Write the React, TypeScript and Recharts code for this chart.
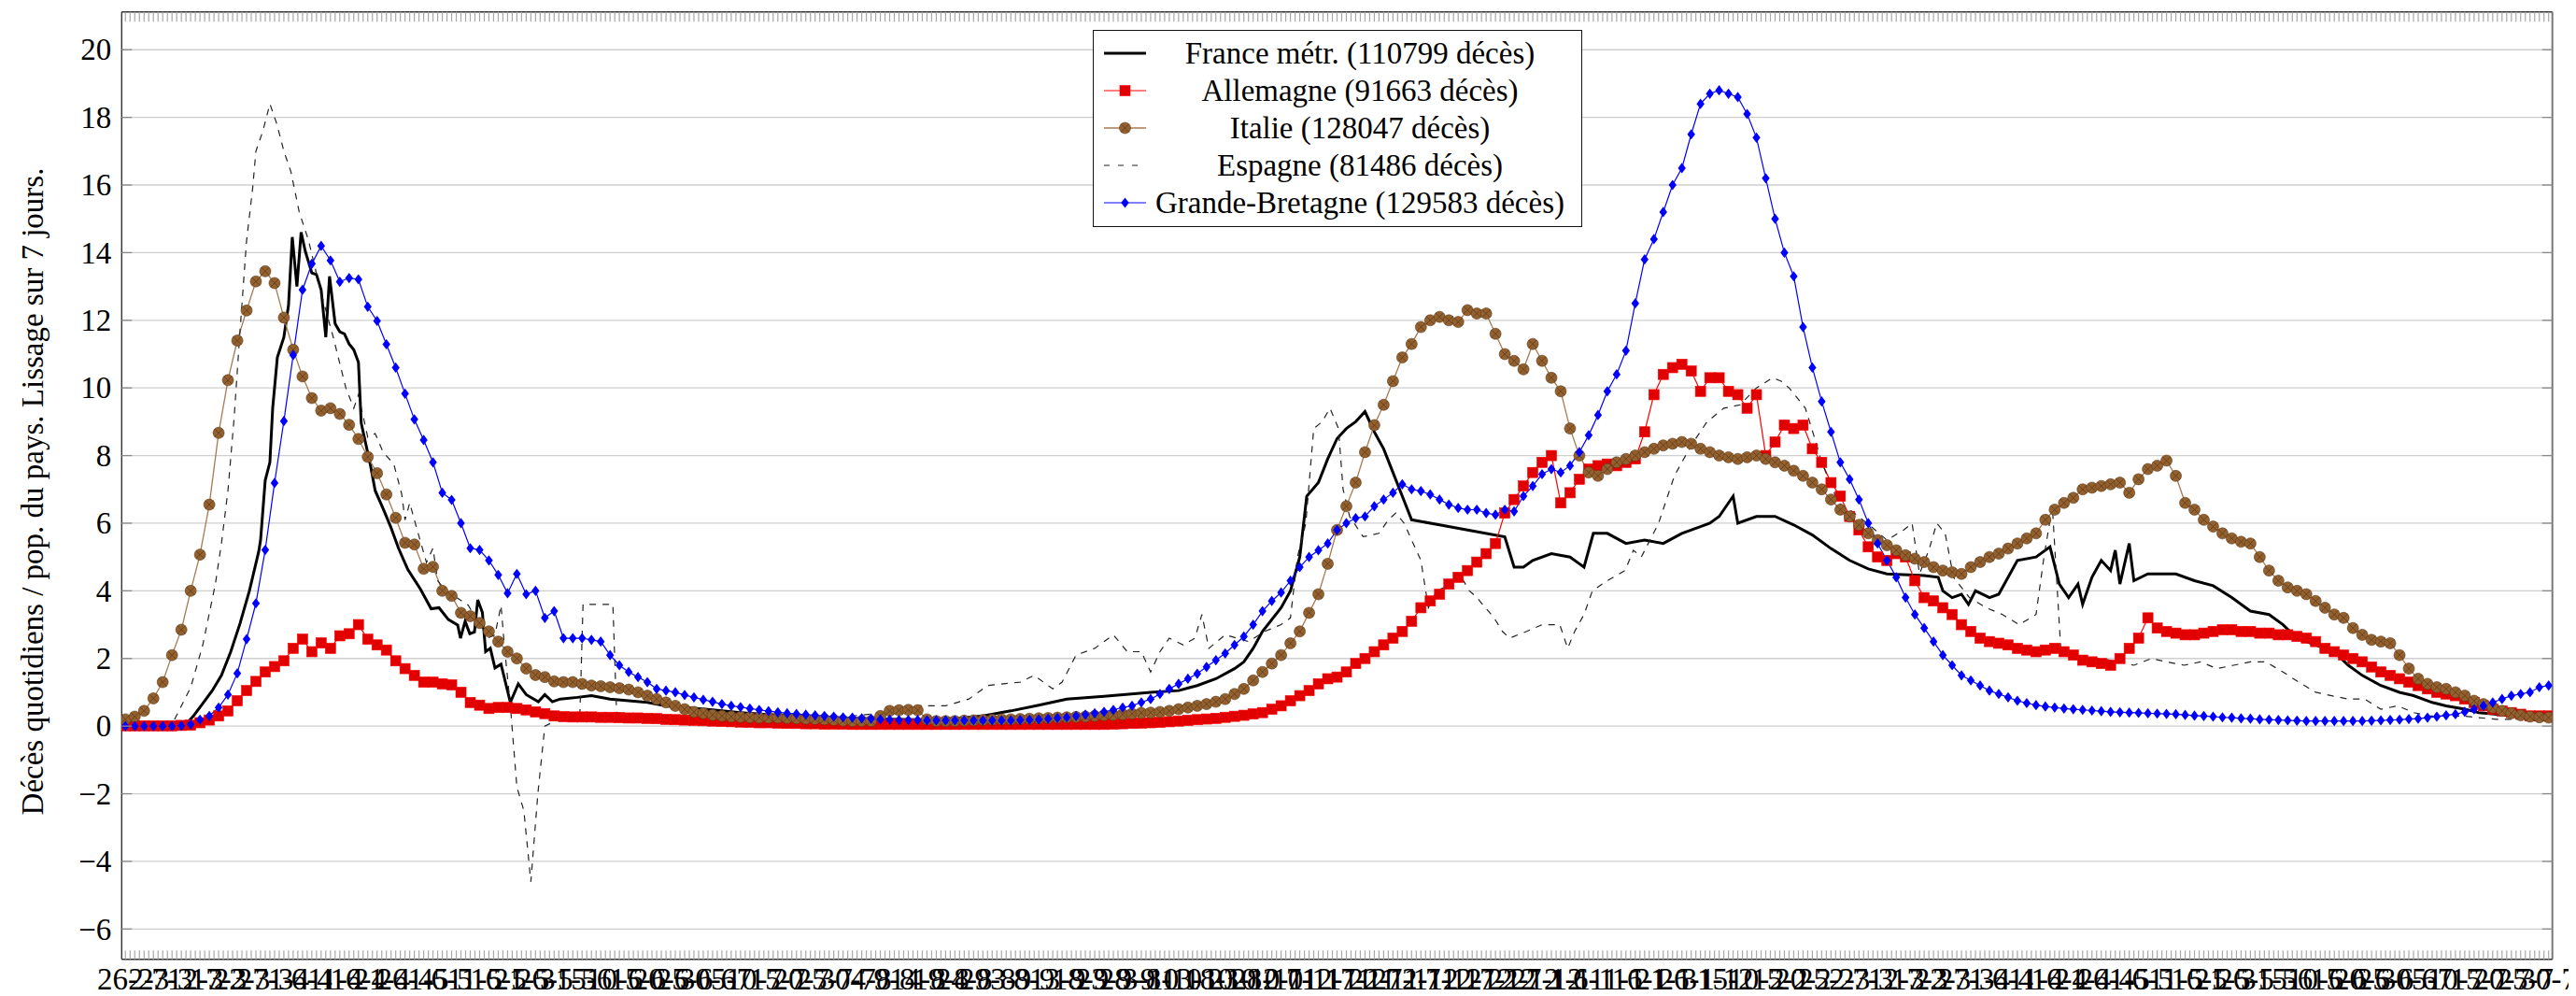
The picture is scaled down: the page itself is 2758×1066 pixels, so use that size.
import React from 'react';
import { LineChart, Line, XAxis, YAxis, CartesianGrid, ReferenceLine, Legend } from 'recharts';

const FONT = '"Liberation Serif", "DejaVu Serif", serif';
const FS = 33;
const W = 2750;
const H = 1058;
const PLOT_L = 122.3;
const PLOT_R = 2724.7;
const PLOT_T = 4.7;
const PLOT_B = 1018.7;
const X_MIN = -0.8;
const X_MAX = 520.8;
const Y_MIN = -6.895;
const Y_MAX = 21.12;

// x tick labels, one every 5 days starting 26-2-2020
const tickLabels = [
  '26-2', '2-3', '7-3', '12-3', '17-3', '22-3', '27-3', '1-4', '6-4', '11-4', '16-4', '21-4', '26-4',
  '1-5', '6-5', '11-5', '16-5', '21-5', '26-5', '31-5', '5-6', '10-6', '15-6', '20-6', '25-6', '30-6',
  '5-7', '10-7', '15-7', '20-7', '25-7', '30-7', '4-8', '9-8', '14-8', '19-8', '24-8', '29-8', '3-9',
  '8-9', '13-9', '18-9', '23-9', '28-9', '3-10', '8-10', '13-10', '18-10', '23-10', '28-10', '2-11',
  '7-11', '12-11', '17-11', '22-11', '27-11', '2-12', '7-12', '12-12', '17-12', '22-12', '27-12',
  '1-1', '6-1', '11-1', '16-1', '21-1', '26-1', '31-1', '5-2', '10-2', '15-2', '20-2', '25-2', '2-3',
  '7-3', '12-3', '17-3', '22-3', '27-3', '1-4', '6-4', '11-4', '16-4', '21-4', '26-4', '1-5', '6-5',
  '11-5', '16-5', '21-5', '26-5', '31-5', '5-6', '10-6', '15-6', '20-6', '25-6', '30-6', '5-7', '10-7',
  '15-7', '20-7', '25-7', '30-7',
];
const yTicks = [-6, -4, -2, 0, 2, 4, 6, 8, 10, 12, 14, 16, 18, 20];
const tickDays = Array.from({ length: 521 }, (_, i) => i);
const markerDays = Array.from({ length: 261 }, (_, i) => 2 * i);

// France (day, value) knots
const france = [
  [0, 0], [10, 0.02], [13.3, 0.1], [14.6, 0.3], [16.6, 0.67], [18.6, 1.04], [20.6, 1.5], [22.6, 2.2], [24.6, 3.04],
  [26.6, 4.0], [28.6, 5.16], [29, 5.5], [30, 7.27], [31, 7.8], [31.6, 9.4], [32.6, 10.9], [34, 11.5], [35, 12.45],
  [35.8, 14.46], [36.8, 13.0], [37.7, 14.6], [38.6, 14.04], [40, 13.4], [41, 13.35], [42, 12.9], [43, 11.5],
  [43.8, 13.3], [45, 11.9], [46, 11.66], [47, 11.6], [48, 11.3], [49, 11.13], [50, 10.76], [50.6, 8.96],
  [51.6, 8.33], [52.6, 7.7], [53.6, 6.96], [55.3, 6.43], [56.9, 5.9], [58.6, 5.26], [60.6, 4.63], [63.3, 4.05],
  [65.6, 3.47], [67.3, 3.5], [69.3, 3.15], [71.3, 2.99], [71.9, 2.6], [72.9, 3.1], [73.9, 2.73], [74.9, 2.78],
  [75.6, 3.73], [76.6, 3.36], [77.3, 2.2], [78.3, 2.3], [79.3, 1.72], [80.6, 1.83], [82.6, 0.7], [84.3, 1.25],
  [86, 0.93], [88.6, 0.72], [90, 0.93], [91.6, 0.72], [93.3, 0.8], [97, 0.85], [100, 0.9], [104, 0.8], [108, 0.75],
  [112, 0.7], [116, 0.6], [120, 0.55], [126, 0.48], [132, 0.4], [140, 0.32], [150, 0.26], [160, 0.21], [170, 0.19],
  [178, 0.22], [184, 0.3], [190, 0.45], [196, 0.62], [202, 0.8], [210, 0.88], [220, 1.0], [226, 1.05], [230, 1.2],
  [234, 1.4], [238, 1.7], [240, 1.9], [242, 2.3], [244, 2.8], [248, 3.5], [250, 4.0], [252, 5.0], [253.5, 6.8],
  [256, 7.2], [258, 7.9], [260, 8.5], [262, 8.8], [264, 9.0], [266, 9.3], [268, 8.7], [270, 8.2], [272, 7.5],
  [274, 6.8], [276, 6.1], [282, 5.95], [288, 5.8], [296, 5.6], [298, 4.7], [300, 4.7], [302, 4.9], [306, 5.1],
  [310, 5.0], [312, 4.8], [313, 4.7], [315, 5.7], [318, 5.7], [322, 5.4], [326, 5.5], [330, 5.4], [334, 5.7],
  [338, 5.9], [340, 6.0], [342, 6.2], [344, 6.6], [345, 6.8], [346, 6.0], [350, 6.2], [354, 6.2], [358, 5.95],
  [362, 5.65], [366, 5.25], [370, 4.9], [374, 4.65], [378, 4.5], [386, 4.45], [389, 4.4], [390, 4.0], [392, 3.8],
  [394, 3.9], [395.5, 3.6], [397, 4.0], [400, 3.8], [402, 3.9], [406, 4.9], [410, 5.0], [413, 5.3], [415, 4.2],
  [417, 3.8], [419, 4.2], [420, 3.6], [422, 4.4], [424, 4.9], [426, 4.6], [427, 5.2], [428, 4.2], [430, 5.4],
  [431, 4.3], [434, 4.5], [440, 4.5], [444, 4.3], [448, 4.15], [452, 3.8], [456, 3.4], [460, 3.3], [463, 3.0],
  [466, 2.6], [470, 2.4], [474, 2.2], [477, 1.8], [480, 1.5], [484, 1.2], [488, 1.0], [491, 0.9], [495, 0.7],
  [498, 0.6], [502, 0.5], [505, 0.4], [509, 0.35], [513, 0.3], [520, 0.3],
];

// Espagne (day, value) knots
const spain = [
  [0, 0], [8, 0], [10, 0.05], [14, 1.14], [16.6, 2.4], [19.3, 4.2], [20.6, 5.4], [22, 6.96], [23.3, 9.07],
  [24.6, 11.7], [26, 14.36], [27.3, 15.9], [28, 17.0], [29.5, 17.6], [31, 18.4], [32.5, 17.8], [34, 17.0],
  [35.5, 16.4], [37.3, 15.2], [39.3, 14.36], [42, 12.8], [44.6, 11.5], [47.3, 10.0], [49, 9.4], [50, 9.8],
  [52, 8.54], [53.6, 8.65], [55.3, 8.1], [57.6, 7.75], [59.3, 6.85], [60, 6.1], [61, 6.6], [62.6, 5.8],
  [64.6, 4.84], [66, 5.26], [67, 4.3], [69.3, 3.9], [71.3, 3.78], [73.6, 3.57], [75.3, 3.15], [78, 2.62],
  [79.3, 2.7], [80.6, 3.57], [81.3, 2.4], [82.6, 0.6], [84, -1.8], [85.5, -2.5], [87, -4.6], [88.5, -2.0],
  [90, 0.0], [93, 0.2], [97.5, 0.25], [98.2, 3.6], [104.6, 3.6], [105.4, 0.4], [110, 0.3], [120, 0.25],
  [140, 0.2], [150, 0.2], [156, 0.3], [163, 0.4], [170, 0.6], [176, 0.6], [181, 0.8], [185, 1.2], [192, 1.3],
  [195, 1.5], [199, 1.1], [201, 1.3], [204, 2.1], [208, 2.3], [212, 2.7], [215, 2.2], [218, 2.2], [220, 1.6],
  [222, 2.2], [224, 2.6], [227, 2.4], [229.5, 2.6], [231, 3.3], [232.5, 2.3], [236, 2.7], [241, 2.5],
  [244.5, 2.8], [248, 3.0], [250, 3.2], [251.5, 5.0], [253.3, 6.0], [255, 8.8], [256.8, 9.0], [258.5, 9.4],
  [260.3, 8.8], [261.3, 7.0], [262.7, 6.2], [265.6, 5.6], [269, 5.7], [271, 6.1], [272.6, 6.3], [274.4, 6.0],
  [276, 5.5], [278, 4.9], [279.6, 3.5], [281.4, 4.0], [283, 4.1], [286.7, 4.4], [288.4, 4.0], [290, 3.8],
  [293.7, 3.2], [295.5, 2.8], [297, 2.6], [300.7, 2.8], [304, 3.0], [307.8, 3.0], [309.5, 2.3], [311, 2.8],
  [313, 3.3], [314.8, 4.0], [318, 4.3], [321.8, 4.6], [323.6, 5.2], [325.3, 5.0], [329, 6.0], [332.4, 7.4],
  [336, 8.3], [339.4, 9.0], [343, 9.4], [346.5, 9.5], [350, 10.0], [353.5, 10.3], [355.3, 10.2], [357, 10.0],
  [358.8, 9.7], [360.5, 9.4], [362.3, 8.6], [364, 7.8], [365.8, 7.2], [367.6, 6.6], [371, 6.3], [374.6, 5.9],
  [378, 5.5], [381.6, 5.8], [383.4, 6.0], [385, 4.5], [387, 5.2], [388.7, 6.0], [390.5, 5.7], [392.3, 4.4],
  [395.7, 3.8], [399.3, 3.5], [402.8, 3.3], [406.4, 3.0], [410, 3.3], [411.7, 5.0], [413.5, 6.5], [415.3, 2.3],
  [417, 2.2], [420.6, 2.0], [424, 2.0], [427.7, 1.9], [431, 1.8], [434.8, 2.0], [438, 1.9], [441.8, 1.8],
  [445.3, 1.9], [448.8, 1.7], [452.4, 1.8], [456, 1.9], [459.3, 1.9], [463, 1.6], [466.4, 1.3], [470, 1.0],
  [473.4, 0.9], [477, 0.8], [480.5, 0.8], [484, 0.5], [487.6, 0.6], [491, 0.4], [494.6, 0.3], [498, 0.3],
  [501.7, 0.3], [505, 0.25], [508.8, 0.2], [512.3, 0.2], [518, 0.25],
];

// Allemagne, every 2 days from day 0
const germany = [
  0.01, 0.01, 0.01, 0.01, 0.01, 0.01, 0.02, 0.03, 0.1, 0.18,
  0.3, 0.45, 0.75, 1.05, 1.32, 1.6, 1.76, 1.93, 2.3, 2.57,
  2.2, 2.46, 2.3, 2.67, 2.73, 3.0, 2.57, 2.4, 2.25, 1.93,
  1.7, 1.5, 1.3, 1.3, 1.25, 1.22, 1.0, 0.7, 0.62, 0.52,
  0.55, 0.55, 0.52, 0.48, 0.42, 0.37, 0.3, 0.28, 0.27, 0.27,
  0.27, 0.26, 0.26, 0.25, 0.24, 0.24, 0.23, 0.22, 0.2, 0.19,
  0.18, 0.17, 0.16, 0.15, 0.14, 0.13, 0.12, 0.11, 0.1, 0.1,
  0.09, 0.08, 0.08, 0.07, 0.07, 0.06, 0.06, 0.06, 0.05, 0.05,
  0.05, 0.05, 0.05, 0.05, 0.05, 0.05, 0.05, 0.05, 0.05, 0.05,
  0.05, 0.05, 0.05, 0.05, 0.05, 0.05, 0.05, 0.05, 0.05, 0.05,
  0.05, 0.05, 0.05, 0.05, 0.05, 0.05, 0.06, 0.07, 0.08, 0.09,
  0.1, 0.11, 0.13, 0.15, 0.17, 0.19, 0.21, 0.23, 0.26, 0.29,
  0.32, 0.36, 0.4, 0.5, 0.6, 0.75, 0.9, 1.05, 1.25, 1.4,
  1.45, 1.6, 1.85, 2.0, 2.2, 2.4, 2.6, 2.8, 3.1, 3.5,
  3.7, 3.9, 4.2, 4.4, 4.6, 4.85, 5.1, 5.4, 6.3, 6.7,
  7.1, 7.5, 7.8, 8.0, 6.6, 6.9, 7.3, 7.6, 7.7, 7.75,
  7.7, 7.8, 7.9, 8.7, 9.8, 10.4, 10.6, 10.7, 10.5, 9.9,
  10.3, 10.3, 9.9, 9.8, 9.4, 9.8, 8.0, 8.4, 8.9, 8.8,
  8.9, 8.2, 7.8, 7.2, 6.8, 6.2, 5.8, 5.3, 5.0, 4.9,
  5.1, 5.0, 4.3, 3.8, 3.7, 3.5, 3.3, 3.0, 2.8, 2.6,
  2.5, 2.45, 2.4, 2.3, 2.25, 2.2, 2.25, 2.3, 2.2, 2.1,
  1.95, 1.9, 1.85, 1.8, 2.0, 2.3, 2.6, 3.2, 2.9, 2.8,
  2.75, 2.7, 2.7, 2.75, 2.8, 2.85, 2.85, 2.8, 2.8, 2.75,
  2.75, 2.7, 2.7, 2.65, 2.6, 2.5, 2.3, 2.2, 2.1, 2.0,
  1.9, 1.75, 1.6, 1.5, 1.4, 1.3, 1.2, 1.1, 1.0, 0.95,
  0.9, 0.8, 0.7, 0.6, 0.5, 0.45, 0.4, 0.35, 0.3, 0.3,
  0.3,
];

// Italie, every 2 days from day 0
const italy = [
  0.2, 0.28, 0.45, 0.82, 1.3, 2.1, 2.85, 4.0, 5.07, 6.55,
  8.67, 10.23, 11.4, 12.29, 13.15, 13.45, 13.1, 12.08, 11.13, 10.34,
  9.7, 9.33, 9.4, 9.23, 8.91, 8.49, 7.96, 7.48, 6.85, 6.16,
  5.42, 5.37, 4.65, 4.71, 4.0, 3.85, 3.35, 3.25, 3.05, 2.8,
  2.5, 2.2, 2.0, 1.7, 1.51, 1.45, 1.32, 1.3, 1.3, 1.25,
  1.2, 1.18, 1.15, 1.12, 1.08, 1.0, 0.9, 0.8, 0.7, 0.6,
  0.5, 0.42, 0.38, 0.33, 0.3, 0.28, 0.27, 0.26, 0.25, 0.25,
  0.25, 0.24, 0.23, 0.22, 0.21, 0.2, 0.18, 0.16, 0.15, 0.15,
  0.15, 0.3, 0.45, 0.47, 0.48, 0.47, 0.2, 0.15, 0.15, 0.15,
  0.16, 0.17, 0.18, 0.19, 0.2, 0.2, 0.21, 0.22, 0.23, 0.24,
  0.25, 0.26, 0.27, 0.28, 0.3, 0.32, 0.33, 0.35, 0.37, 0.39,
  0.4, 0.42, 0.45, 0.5, 0.55, 0.6, 0.65, 0.72, 0.8, 0.95,
  1.1, 1.35, 1.6, 1.85, 2.1, 2.45, 2.8, 3.35, 3.9, 4.8,
  5.8, 6.5, 7.2, 8.1, 8.9, 9.5, 10.2, 10.9, 11.3, 11.8,
  12.0, 12.1, 12.0, 11.95, 12.3, 12.2, 12.2, 11.6, 11.0, 10.8,
  10.55, 11.3, 10.8, 10.3, 9.9, 8.8, 8.0, 7.5, 7.4, 7.6,
  7.8, 7.9, 8.0, 8.1, 8.2, 8.3, 8.35, 8.4, 8.35, 8.2,
  8.1, 8.0, 7.95, 7.9, 7.95, 8.0, 7.9, 7.8, 7.7, 7.55,
  7.4, 7.2, 7.0, 6.7, 6.4, 6.2, 5.95, 5.7, 5.5, 5.35,
  5.2, 5.05, 4.95, 4.85, 4.7, 4.6, 4.55, 4.5, 4.7, 4.85,
  5.0, 5.1, 5.25, 5.4, 5.55, 5.7, 6.1, 6.4, 6.6, 6.75,
  7.0, 7.05, 7.1, 7.15, 7.2, 6.9, 7.3, 7.6, 7.7, 7.85,
  7.4, 6.6, 6.4, 6.1, 5.9, 5.7, 5.55, 5.45, 5.4, 5.0,
  4.6, 4.3, 4.1, 4.0, 3.9, 3.7, 3.5, 3.3, 3.2, 2.9,
  2.7, 2.55, 2.5, 2.45, 2.1, 1.7, 1.4, 1.25, 1.15, 1.1,
  1.0, 0.9, 0.75, 0.65, 0.55, 0.45, 0.38, 0.32, 0.28, 0.26,
  0.25,
];

// Grande-Bretagne, every 2 days from day 0
const uk = [
  0, 0, 0, 0, 0, 0, 0.01, 0.05, 0.19, 0.3,
  0.55, 0.93, 1.56, 2.57, 3.63, 5.21, 7.19, 9.02, 10.97, 12.9,
  13.67, 14.2, 13.77, 13.14, 13.25, 13.21, 12.4, 11.98, 11.29, 10.6,
  9.83, 9.07, 8.46, 7.8, 6.9, 6.69, 6.0, 5.26, 5.21, 4.9,
  4.47, 3.93, 4.5, 3.9, 4.0, 3.2, 3.4, 2.6, 2.6, 2.6,
  2.55, 2.5, 2.1, 1.8, 1.6, 1.45, 1.3, 1.1, 1.05, 1.0,
  0.92, 0.85, 0.78, 0.72, 0.65, 0.6, 0.56, 0.52, 0.48, 0.44,
  0.41, 0.38, 0.36, 0.34, 0.32, 0.3, 0.28, 0.26, 0.25, 0.23,
  0.22, 0.2, 0.19, 0.18, 0.18, 0.18, 0.17, 0.17, 0.17, 0.17,
  0.17, 0.17, 0.17, 0.17, 0.17, 0.17, 0.18, 0.19, 0.2, 0.22,
  0.24, 0.26, 0.3, 0.34, 0.38, 0.42, 0.48, 0.55, 0.6, 0.7,
  0.8, 0.95, 1.1, 1.25, 1.4, 1.55, 1.75, 1.95, 2.15, 2.4,
  2.65, 3.0, 3.4, 3.7, 3.95, 4.3, 4.7, 5.0, 5.2, 5.4,
  5.8, 6.0, 6.15, 6.2, 6.5, 6.7, 6.9, 7.15, 7.0, 6.95,
  6.85, 6.7, 6.55, 6.45, 6.4, 6.4, 6.3, 6.25, 6.4, 6.35,
  6.8, 7.1, 7.45, 7.6, 7.5, 7.7, 8.1, 8.6, 9.2, 9.9,
  10.4, 11.1, 12.5, 13.8, 14.4, 15.2, 16.0, 16.5, 17.5, 18.4,
  18.7, 18.8, 18.7, 18.6, 18.1, 17.4, 16.2, 15.0, 14.0, 13.3,
  11.8, 10.6, 9.6, 8.7, 7.8, 7.3, 6.7, 6.0, 5.4, 4.9,
  4.4, 3.8, 3.3, 2.9, 2.5, 2.1, 1.8, 1.5, 1.35, 1.2,
  1.05, 0.95, 0.85, 0.75, 0.68, 0.62, 0.58, 0.55, 0.52, 0.5,
  0.48, 0.46, 0.44, 0.42, 0.41, 0.4, 0.39, 0.38, 0.37, 0.36,
  0.35, 0.33, 0.31, 0.3, 0.28, 0.26, 0.25, 0.23, 0.22, 0.2,
  0.19, 0.18, 0.17, 0.16, 0.15, 0.15, 0.15, 0.15, 0.15, 0.15,
  0.15, 0.16, 0.17, 0.18, 0.19, 0.21, 0.22, 0.25, 0.28, 0.32,
  0.35, 0.42, 0.5, 0.6, 0.7, 0.8, 0.9, 0.95, 1.0, 1.15,
  1.2,
];

const seriesNames = [
  'France métr. (110799 décès)',
  'Allemagne (91663 décès)',
  'Italie (128047 décès)',
  'Espagne (81486 décès)',
  'Grande-Bretagne (129583 décès)',
];

const COL_RED = '#e00000';
const COL_RED_LINE = '#ff0000';
const COL_BROWN_LINE = '#a87a50';
const COL_BROWN = '#93602f';
const COL_BROWN_DARK = '#5e3a17';
const COL_BLUE = '#0000ff';

const franceData = france.map(([d, v]) => ({ d, v }));
const spainData = spain.map(([d, v]) => ({ d, v }));
const germanyData = markerDays.map((d, i) => ({ d, v: germany[i] }));
const italyData = markerDays.map((d, i) => ({ d, v: italy[i] }));
const ukData = markerDays.map((d, i) => ({ d, v: uk[i] }));

const Square = ({ cx, cy }: any) => (
  <rect x={cx - 5.5} y={cy - 5.5} width={11} height={11} fill={COL_RED} stroke={COL_RED_LINE} strokeWidth={0.6} />
);
const OTimes = ({ cx, cy }: any) => (
  <g>
    <circle cx={cx} cy={cy} r={6} fill={COL_BROWN} stroke={COL_BROWN_DARK} strokeWidth={0.6} />
    <line x1={cx - 4.2} y1={cy - 4.2} x2={cx + 4.2} y2={cy + 4.2} stroke={COL_BROWN_DARK} strokeWidth={0.8} />
    <line x1={cx - 4.2} y1={cy + 4.2} x2={cx + 4.2} y2={cy - 4.2} stroke={COL_BROWN_DARK} strokeWidth={0.8} />
  </g>
);
const Diamond = ({ cx, cy }: any) => (
  <path d={`M${cx},${cy - 5.6} L${cx + 4.2},${cy} L${cx},${cy + 5.6} L${cx - 4.2},${cy} Z`} fill={COL_BLUE} />
);

const renderSquare = (p: any) => {
  if (p.cx == null || p.cy == null) return <g key={`s${p.index}`} />;
  return <Square key={`s${p.index}`} cx={p.cx} cy={p.cy} />;
};
const renderOTimes = (p: any) => {
  if (p.cx == null || p.cy == null) return <g key={`o${p.index}`} />;
  return <OTimes key={`o${p.index}`} cx={p.cx} cy={p.cy} />;
};
const renderDiamond = (p: any) => {
  if (p.cx == null || p.cy == null) return <g key={`d${p.index}`} />;
  return <Diamond key={`d${p.index}`} cx={p.cx} cy={p.cy} />;
};

const XTick = (props: any) => {
  const { x, payload } = props;
  const v = payload.value;
  return (
    <g>
      <line x1={x} x2={x} y1={PLOT_B} y2={PLOT_B - 9.5} stroke="#a8a8a8" strokeWidth={1.2} />
      <line x1={x} x2={x} y1={PLOT_T} y2={PLOT_T + 10.5} stroke="#a8a8a8" strokeWidth={1.2} />
      {v % 5 === 0 ? (
        <text x={x} y={PLOT_B + 32} textAnchor="middle" fontFamily={FONT} fontSize={FS} fill="#000">
          {tickLabels[v / 5]}
        </text>
      ) : null}
    </g>
  );
};

const YTick = (props: any) => {
  const { y, payload } = props;
  const v = payload.value;
  const label = v < 0 ? `\u2212${Math.abs(v)}` : String(v);
  return (
    <g>
      <line x1={PLOT_L} x2={PLOT_L + 11} y1={y} y2={y} stroke="#8a8a8a" strokeWidth={1.3} />
      <line x1={PLOT_R - 11} x2={PLOT_R} y1={y} y2={y} stroke="#8a8a8a" strokeWidth={1.3} />
      <text x={PLOT_L - 11} y={y} dy="0.34em" textAnchor="end" fontFamily={FONT} fontSize={FS} fill="#000">
        {label}
      </text>
    </g>
  );
};

const LegendSample = ({ idx }: { idx: number }) => {
  const y = 20;
  const x1 = 11;
  const x2 = 56;
  const mx = 33.5;
  let content: React.ReactNode;
  if (idx === 0) content = <line x1={x1} x2={x2} y1={y} y2={y} stroke="#000" strokeWidth={3} />;
  else if (idx === 1)
    content = (
      <>
        <line x1={x1} x2={x2} y1={y} y2={y} stroke={COL_RED_LINE} strokeWidth={1.2} />
        <Square cx={mx} cy={y} />
      </>
    );
  else if (idx === 2)
    content = (
      <>
        <line x1={x1} x2={x2} y1={y} y2={y} stroke={COL_BROWN_LINE} strokeWidth={1.3} />
        <OTimes cx={mx} cy={y} />
      </>
    );
  else if (idx === 3) content = <line x1={x1} x2={x2} y1={y} y2={y} stroke="#222" strokeWidth={1.2} strokeDasharray="6 9" />;
  else
    content = (
      <>
        <line x1={x1} x2={x2} y1={y} y2={y} stroke={COL_BLUE} strokeWidth={1.2} />
        <Diamond cx={mx} cy={y} />
      </>
    );
  return (
    <svg width={62} height={40} style={{ flex: 'none' }}>
      {content}
    </svg>
  );
};

const LegendBox = () => (
  <div
    style={{
      width: 524,
      height: 211,
      boxSizing: 'border-box',
      border: '1.4px solid #111',
      background: '#fff',
      paddingTop: 4,
      fontFamily: FONT,
      fontSize: FS,
      color: '#000',
      lineHeight: '40px',
    }}
  >
    {seriesNames.map((name, i) => (
      <div key={name} style={{ display: 'flex', alignItems: 'center', height: 40 }}>
        <LegendSample idx={i} />
        <div style={{ width: 446, textAlign: 'center', whiteSpace: 'nowrap' }}>{name}</div>
      </div>
    ))}
  </div>
);

export default function App() {
  return (
    <div style={{ position: 'relative', width: W, height: H }}>
      <LineChart width={W} height={H} margin={{ top: PLOT_T, right: W - PLOT_R, bottom: 0, left: 0 }}>
        <CartesianGrid vertical={false} stroke="#cfcfcf" strokeWidth={1.3} />
        <XAxis
          type="number"
          dataKey="d"
          domain={[X_MIN, X_MAX]}
          ticks={tickDays}
          interval={0}
          tick={<XTick />}
          tickLine={false}
          tickSize={0}
          tickMargin={0}
          height={H - PLOT_B}
          axisLine={{ stroke: '#333', strokeWidth: 1.4 }}
          allowDataOverflow
        />
        <YAxis
          type="number"
          domain={[Y_MIN, Y_MAX]}
          ticks={yTicks}
          interval={0}
          tick={<YTick />}
          tickLine={false}
          tickSize={0}
          tickMargin={0}
          width={PLOT_L}
          axisLine={{ stroke: '#333', strokeWidth: 1.4 }}
          allowDataOverflow
        />
        <ReferenceLine y={Y_MAX} stroke="#333" strokeWidth={1.4} />
        <ReferenceLine x={X_MAX} stroke="#777" strokeWidth={2} />
        <Line data={franceData} dataKey="v" name={seriesNames[0]} stroke="#000" strokeWidth={3} dot={false} activeDot={false} isAnimationActive={false} />
        <Line data={germanyData} dataKey="v" name={seriesNames[1]} stroke={COL_RED_LINE} strokeWidth={1.2} dot={renderSquare} activeDot={false} isAnimationActive={false} />
        <Line data={italyData} dataKey="v" name={seriesNames[2]} stroke={COL_BROWN_LINE} strokeWidth={1.3} dot={renderOTimes} activeDot={false} isAnimationActive={false} />
        <Line data={spainData} dataKey="v" name={seriesNames[3]} stroke="#222" strokeWidth={1.2} strokeDasharray="7 7" dot={false} activeDot={false} isAnimationActive={false} />
        <Line data={ukData} dataKey="v" name={seriesNames[4]} stroke={COL_BLUE} strokeWidth={1.2} dot={renderDiamond} activeDot={false} isAnimationActive={false} />
        <Legend
          layout="horizontal"
          verticalAlign="middle"
          align="center"
          content={() => <LegendBox />}
          wrapperStyle={{ position: 'absolute', left: 1162, top: 24, width: 524, height: 211 }}
        />
      </LineChart>
      <div
        style={{
          position: 'absolute',
          left: 27,
          top: 518,
          transform: 'translate(-50%, -50%) rotate(-90deg)',
          whiteSpace: 'nowrap',
          fontFamily: FONT,
          fontSize: FS,
          color: '#000',
          lineHeight: 1,
        }}
      >
        Décès quotidiens / pop. du pays. Lissage sur 7 jours.
      </div>
    </div>
  );
}
